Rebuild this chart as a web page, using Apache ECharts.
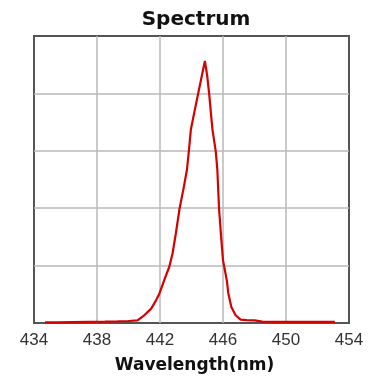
<!DOCTYPE html>
<html><head><meta charset="utf-8">
<script src="https://cdn.jsdelivr.net/npm/echarts@6/dist/echarts.min.js"></script>
<style>html,body{margin:0;padding:0;background:#fff}#c{width:381px;height:385px}</style>
</head><body><div id="c"></div>
<script>
const wavelengths = [434.7, 435.5, 436.5, 437.5, 438.5, 439.3, 440.0, 440.57, 441.0, 441.44, 441.75, 441.96, 442.27, 442.59, 442.8, 443.0, 443.24, 443.5, 443.71, 443.83, 443.96, 444.2, 444.42, 444.65, 444.85, 445.0, 445.12, 445.33, 445.54, 445.64, 445.75, 445.88, 446.0, 446.1, 446.24, 446.34, 446.53, 446.8, 447.12, 447.5, 448.0, 448.5, 449.5, 450.5, 451.5, 452.5, 453.1];
const intensity = [0.002, 0.002, 0.003, 0.004, 0.005, 0.006, 0.007, 0.009, 0.027, 0.050, 0.079, 0.102, 0.149, 0.196, 0.243, 0.310, 0.398, 0.470, 0.534, 0.598, 0.674, 0.740, 0.799, 0.860, 0.913, 0.860, 0.799, 0.674, 0.598, 0.534, 0.398, 0.300, 0.219, 0.190, 0.149, 0.103, 0.056, 0.027, 0.012, 0.010, 0.009, 0.005, 0.004, 0.004, 0.004, 0.004, 0.004];
const xTicks = [434, 438, 442, 446, 450, 454];

const chart = echarts.init(document.getElementById('c'), null, {renderer: 'canvas'});
const titleFont = 'DejaVu Sans, Verdana, sans-serif';
const tickFont = 'Liberation Sans, Arial, sans-serif';
chart.setOption({
  animation: false,
  title: {text: 'Spectrum', left: 191, textAlign: 'center', top: 5,
    textStyle: {fontFamily: titleFont, fontSize: 20, fontWeight: 'bold', color: '#111'}},
  grid: {left: 34, right: 32, top: 36, bottom: 62, show: true, borderColor: '#555', borderWidth: 2, backgroundColor: 'transparent'},
  xAxis: {type: 'value', min: xTicks[0], max: xTicks[xTicks.length-1], interval: 4,
    name: 'Wavelength(nm)', nameLocation: 'middle', nameGap: 34,
    nameTextStyle: {fontFamily: titleFont, fontSize: 17, fontWeight: 'bold', color: '#111', padding: [0, 0, 0, 6]},
    axisLine: {show: false}, axisTick: {show: false},
    axisLabel: {fontFamily: tickFont, fontSize: 17, color: '#333', margin: 9},
    splitLine: {show: true, showMinLine: false, showMaxLine: false, lineStyle: {color: '#b8b8b8', width: 1.5}}},
  yAxis: {type: 'value', min: 0, max: 1, interval: 0.2,
    axisLine: {show: false}, axisTick: {show: false}, axisLabel: {show: false},
    splitLine: {show: true, showMinLine: false, showMaxLine: false, lineStyle: {color: '#b8b8b8', width: 1.5}}},
  series: [{type: 'line', data: wavelengths.map((w, i) => [w, intensity[i]]),
    showSymbol: false, smooth: false, lineStyle: {color: '#d50000', width: 2.2}, z: 5}]
});
</script></body></html>
